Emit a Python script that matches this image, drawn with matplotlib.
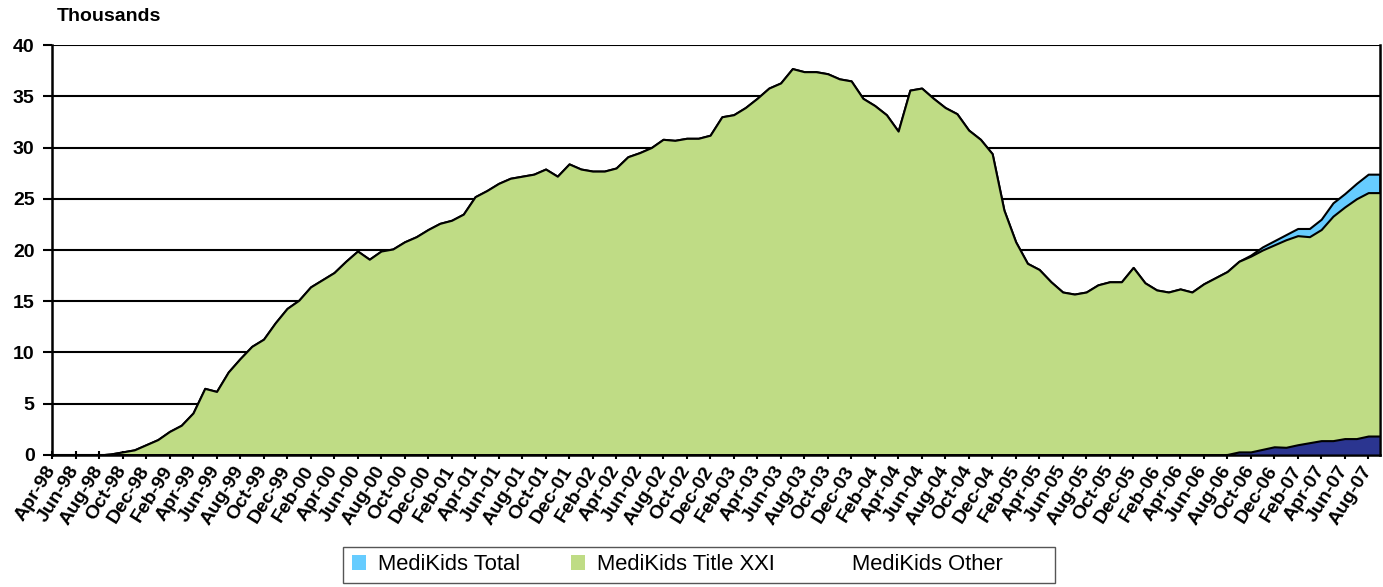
import pandas as pd
import matplotlib
matplotlib.use('Agg')
import matplotlib.pyplot as plt
from matplotlib.patches import Patch, Rectangle

# monthly enrollment, thousands, Apr-98 .. Sep-07
title_xxi = [0, 0, 0, 0, 0, 0.1, 0.3, 0.5, 1.0,
             1.5, 2.3, 2.9, 4.1, 6.5, 6.2, 8.1, 9.4, 10.6, 11.3, 12.9, 14.3,
             15.1, 16.4, 17.1, 17.8, 18.9, 19.9, 19.1, 19.9, 20.1, 20.8, 21.3, 22.0,
             22.6, 22.9, 23.5, 25.2, 25.8, 26.5, 27.0, 27.2, 27.4, 27.9, 27.2, 28.4,
             27.9, 27.7, 27.7, 28.0, 29.1, 29.5, 30.0, 30.8, 30.7, 30.9, 30.9, 31.2,
             33.0, 33.2, 33.9, 34.8, 35.8, 36.3, 37.7, 37.4, 37.4, 37.2, 36.7, 36.5,
             34.8, 34.1, 33.2, 31.6, 35.6, 35.8, 34.8, 33.9, 33.3, 31.7, 30.8, 29.4,
             23.9, 20.8, 18.7, 18.1, 16.9, 15.9, 15.7, 15.9, 16.6, 16.9, 16.9, 18.3,
             16.8, 16.1, 15.9, 16.2, 15.9, 16.7, 17.3, 17.9, 18.9, 19.4, 20.0, 20.5,
             21.0, 21.4, 21.3, 22.0, 23.3, 24.2, 25.0, 25.6, 25.6]

total = [0, 0, 0, 0, 0, 0.1, 0.3, 0.5, 1.0,
         1.5, 2.3, 2.9, 4.1, 6.5, 6.2, 8.1, 9.4, 10.6, 11.3, 12.9, 14.3,
         15.1, 16.4, 17.1, 17.8, 18.9, 19.9, 19.1, 19.9, 20.1, 20.8, 21.3, 22.0,
         22.6, 22.9, 23.5, 25.2, 25.8, 26.5, 27.0, 27.2, 27.4, 27.9, 27.2, 28.4,
         27.9, 27.7, 27.7, 28.0, 29.1, 29.5, 30.0, 30.8, 30.7, 30.9, 30.9, 31.2,
         33.0, 33.2, 33.9, 34.8, 35.8, 36.3, 37.7, 37.4, 37.4, 37.2, 36.7, 36.5,
         34.8, 34.1, 33.2, 31.6, 35.6, 35.8, 34.8, 33.9, 33.3, 31.7, 30.8, 29.4,
         23.9, 20.8, 18.7, 18.1, 16.9, 15.9, 15.7, 15.9, 16.6, 16.9, 16.9, 18.3,
         16.8, 16.1, 15.9, 16.2, 15.9, 16.7, 17.3, 17.9, 18.9, 19.5, 20.3, 20.9,
         21.5, 22.1, 22.1, 23.0, 24.6, 25.5, 26.5, 27.4, 27.4]

other = [0] * 100 + [0.05, 0.3, 0.3, 0.55, 0.8, 0.75, 1.0, 1.2, 1.4, 1.4,
                     1.6, 1.6, 1.85, 1.85]

months = pd.date_range('1998-04-01', periods=len(total), freq='MS').strftime('%b-%y')
x = list(range(len(months)))

plt.rcParams['font.family'] = ['Liberation Sans', 'DejaVu Sans']

fig = plt.figure(figsize=(13.83, 5.87), dpi=100)
ax = fig.add_axes([0.0376, 0.2249, 0.9602, 0.6984])

lw = 1.5
ax.fill_between(x, 0, total, facecolor='#66CCFF', edgecolor='black', linewidth=lw, zorder=2)
ax.fill_between(x, 0, title_xxi, facecolor='#BFDC85', edgecolor='black', linewidth=lw, zorder=3)
ax.fill_between(x, 0, other, facecolor='#2B3590', edgecolor='black', linewidth=lw, zorder=4)

ax.set_xlim(0, len(x) - 1)
ax.set_ylim(0, 40)
ax.set_yticks(range(0, 41, 5))
ax.yaxis.grid(True, color='black', linewidth=1.5, zorder=0)
ax.set_axisbelow(True)

ax.set_xticks(x[::2])
ax.set_xticklabels(months[::2], rotation=58, ha='right', va='center',
                   rotation_mode='anchor', fontweight='bold', fontsize=14)
for lab in ax.get_yticklabels():
    lab.set_fontweight('bold')
ax.tick_params(axis='y', labelsize=14, length=6.5, width=1.5, pad=6)
ax.tick_params(axis='x', length=6, width=1.5, pad=6, direction='inout')

for s in ['left', 'bottom', 'right']:
    ax.spines[s].set_linewidth(1.8)
    ax.spines[s].set_color('black')
ax.spines['top'].set_visible(False)

fig.text(0.041, 0.972, 'Thousands', fontsize=14, fontweight='bold', ha='left', va='center')

handles = [Patch(facecolor='#66CCFF', edgecolor='none'),
           Patch(facecolor='#BFDC85', edgecolor='none'),
           Patch(facecolor='none', edgecolor='none')]
leg = fig.legend(handles, ['MediKids Total', 'MediKids Title XXI', 'MediKids Other'],
                 loc='center left', bbox_to_anchor=(0.2545, 0.0375), ncol=3, fontsize=15.8,
                 frameon=False, handlelength=0.65, handleheight=0.7,
                 handletextpad=0.55, columnspacing=2.3, borderpad=0.0, borderaxespad=0)
# legend box, wider than its entries as in the original
fig.patches.append(Rectangle((0.248, 0.007), 0.515, 0.061, transform=fig.transFigure,
                             fill=False, edgecolor='#555555', linewidth=1.0))

plt.savefig('out.png', dpi=100)
